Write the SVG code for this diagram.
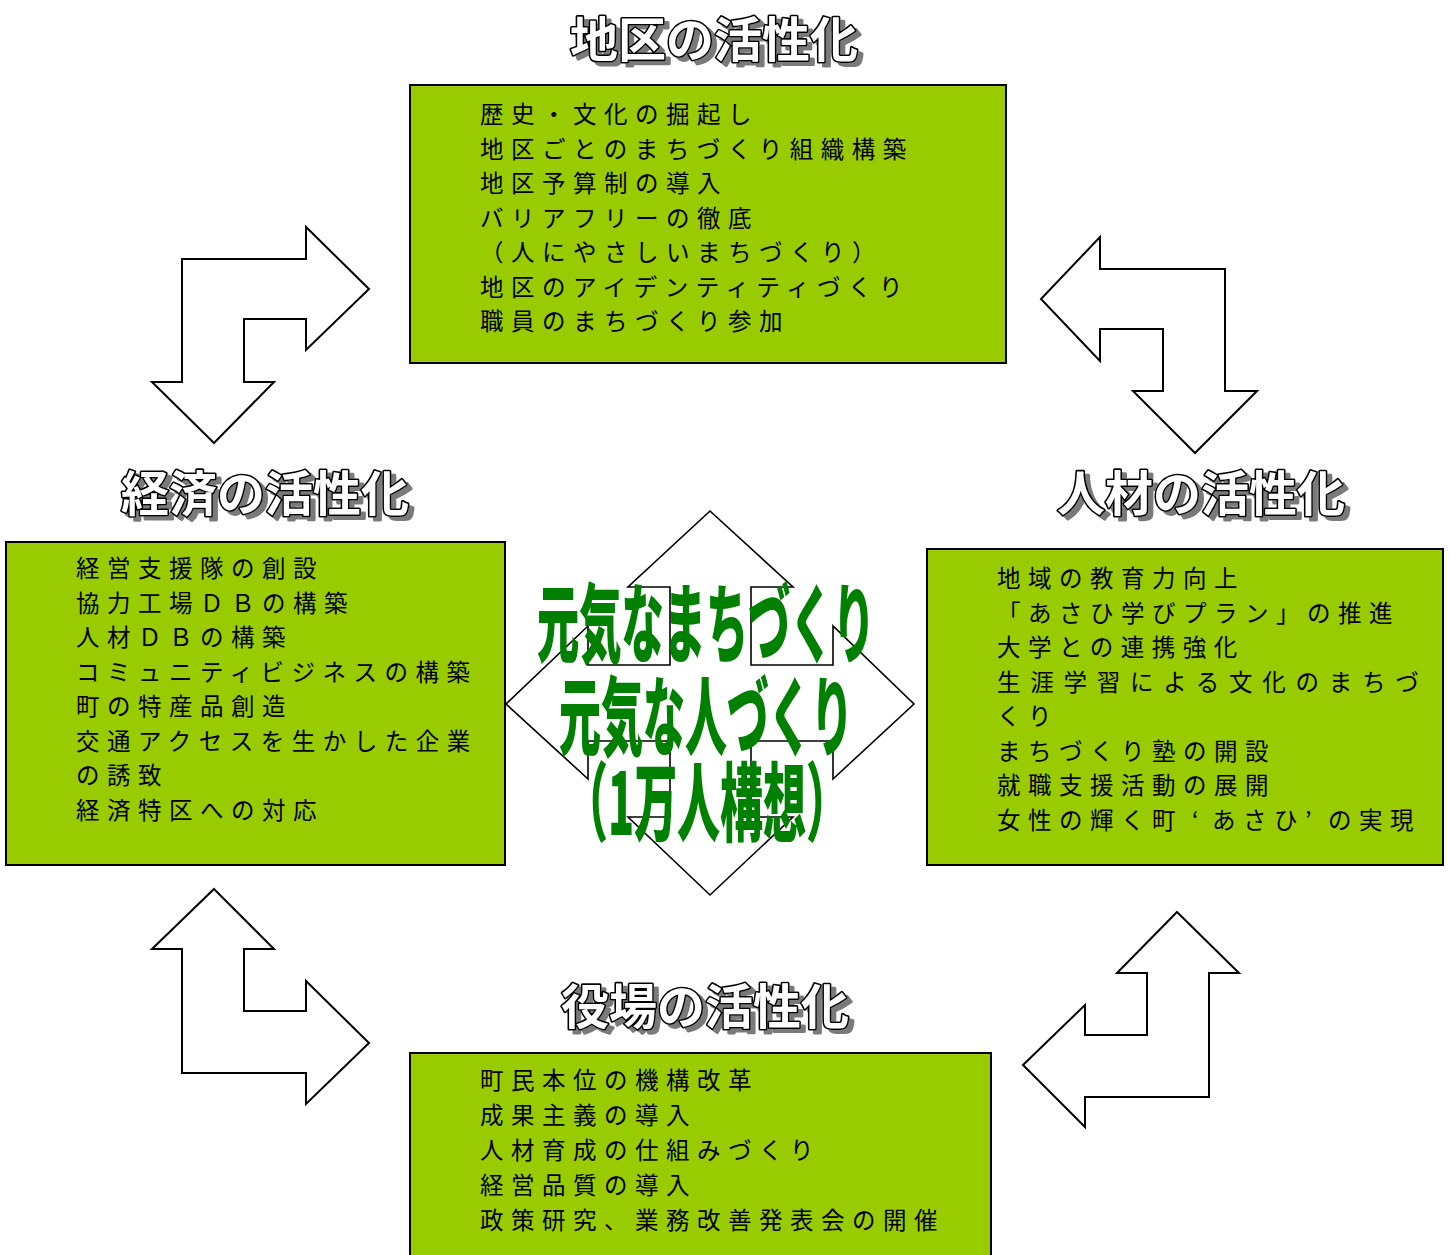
<svg xmlns="http://www.w3.org/2000/svg" width="1451" height="1255" viewBox="0 0 1451 1255">
<defs>
<filter id="shadow" x="-10%" y="-20%" width="120%" height="150%">
<feOffset in="SourceAlpha" dx="5" dy="4" result="off"/>
<feFlood flood-color="#7a7a7a"/>
<feComposite in2="off" operator="in" result="sh"/>
<feMerge><feMergeNode in="sh"/><feMergeNode in="SourceGraphic"/></feMerge>
</filter>
</defs>
<style>
.box{fill:#99CC00;stroke:#000;stroke-width:2}
.arrow{fill:#fff;stroke:#000;stroke-width:2;stroke-linejoin:miter}
.item{font-family:"Noto Sans CJK JP","Noto Sans CJK SC",sans-serif;font-size:23.5px;letter-spacing:7.5px;fill:#000}
.ttl{font-family:"Noto Sans CJK JP","Noto Sans CJK SC",sans-serif;font-size:48px;font-weight:700;text-anchor:middle;fill:#fff;stroke:#000;stroke-width:3.2;paint-order:stroke;stroke-linejoin:round;filter:url(#shadow)}
.ctr{font-family:"Noto Sans CJK JP","Noto Sans CJK SC",sans-serif;font-size:86px;font-weight:900;fill:#008000}
</style>
<rect width="1451" height="1255" fill="#fff"/>

<g id="box-chiku">
<rect class="box" x="410" y="85" width="596" height="278"/>
<text class="item" x="480" y="123">歴史・文化の掘起し</text>
<text class="item" x="480" y="157.5">地区ごとのまちづくり組織構築</text>
<text class="item" x="480" y="192">地区予算制の導入</text>
<text class="item" x="480" y="226.5">バリアフリーの徹底</text>
<text class="item" x="480" y="261">（人にやさしいまちづくり）</text>
<text class="item" x="480" y="295.5">地区のアイデンティティづくり</text>
<text class="item" x="480" y="330">職員のまちづくり参加</text>
</g>

<g id="box-keizai">
<rect class="box" x="6" y="542" width="499" height="323"/>
<text class="item" x="76" y="577">経営支援隊の創設</text>
<text class="item" x="76" y="611.5">協力工場ＤＢの構築</text>
<text class="item" x="76" y="646">人材ＤＢの構築</text>
<text class="item" x="76" y="680.5">コミュニティビジネスの構築</text>
<text class="item" x="76" y="715">町の特産品創造</text>
<text class="item" x="76" y="749.5">交通アクセスを生かした企業</text>
<text class="item" x="76" y="784">の誘致</text>
<text class="item" x="76" y="818.5">経済特区への対応</text>
</g>

<g id="box-jinzai">
<rect class="box" x="927" y="549" width="516" height="316"/>
<text class="item" x="997" y="587">地域の教育力向上</text>
<text class="item" x="997" y="621.5">「あさひ学びプラン」の推進</text>
<text class="item" x="997" y="656">大学との連携強化</text>
<text class="item" x="997" y="690.5" style="letter-spacing:9.75px">生涯学習による文化のまちづ</text>
<text class="item" x="997" y="725">くり</text>
<text class="item" x="997" y="759.5">まちづくり塾の開設</text>
<text class="item" x="997" y="794">就職支援活動の展開</text>
<text class="item" x="997" y="828.5">女性の輝く町<tspan dx="9">‘</tspan><tspan dx="6">あさひ</tspan>’<tspan dx="9">の実現</tspan></text>
</g>

<g id="box-yakuba">
<rect class="box" x="410" y="1053" width="581" height="215"/>
<text class="item" x="480" y="1089">町民本位の機構改革</text>
<text class="item" x="480" y="1124">成果主義の導入</text>
<text class="item" x="480" y="1159">人材育成の仕組みづくり</text>
<text class="item" x="480" y="1194">経営品質の導入</text>
<text class="item" x="480" y="1229">政策研究、業務改善発表会の開催</text>
</g>

<g id="connectors">
<polygon class="arrow" points="182,259 306,259 306,227 369,289 306,350 306,319 244,319 244,382 274,382 214,443 152,382 182,382"/>
<polygon class="arrow" points="1041,299 1100,237 1100,269 1225,269 1225,391 1257,391 1195,453 1133,391 1163,391 1163,329 1100,329 1100,361"/>
<polygon class="arrow" points="214,889 274,949 244,949 244,1011 306,1011 306,981 369,1043 306,1104 306,1073 182,1073 182,949 152,949"/>
<polygon class="arrow" points="1177,912 1239,973 1209,973 1209,1097 1085,1097 1085,1127 1023,1065 1085,1005 1085,1035 1147,1035 1147,973 1117,973"/>
</g>

<g id="center">
<polygon class="arrow" style="stroke-width:1.6" points="710,511 793,587 751,587 751,665 833,665 833,626 914,704 833,779 833,741 751,741 751,817 793,817 710,895 628,817 670,817 670,741 588,741 588,779 506,704 588,626 588,665 670,665 670,587 628,587"/>
<text class="ctr" x="537" y="656" textLength="338" lengthAdjust="spacingAndGlyphs">元気なまちづくり</text>
<text class="ctr" x="559" y="749" textLength="294" lengthAdjust="spacingAndGlyphs">元気な人づくり</text>
<text class="ctr" x="565" y="835" textLength="284" lengthAdjust="spacingAndGlyphs">（1万人構想）</text>
</g>

<g id="title-chiku"><text class="ttl" x="714" y="57">地区の活性化</text></g>
<g id="title-keizai"><text class="ttl" x="265" y="511">経済の活性化</text></g>
<g id="title-jinzai"><text class="ttl" x="1201" y="511">人材の活性化</text></g>
<g id="title-yakuba"><text class="ttl" x="705" y="1024">役場の活性化</text></g>
</svg>
